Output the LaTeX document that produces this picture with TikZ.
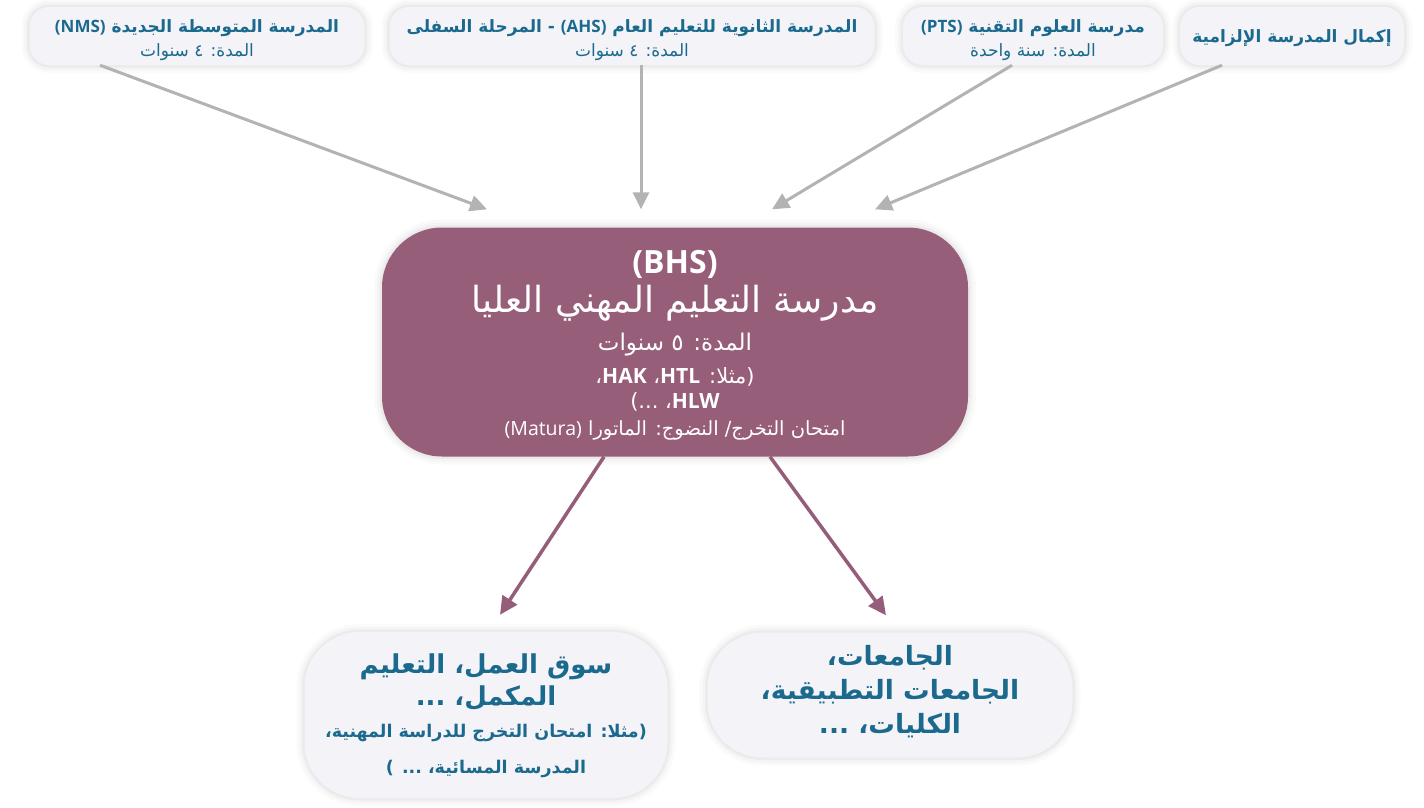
\documentclass[tikz,border=0pt]{standalone}
\usepackage{fontspec}
\usetikzlibrary{arrows.meta}
\TeXXeTstate=1
\newfontfamily\ar[Script=Arabic]{DejaVu Sans}
\newfontfamily\lat{Open Sans}
\newcommand\RR[1]{\beginR #1\endR}
\newcommand\LT[1]{\beginL{#1}\endL}
% row: pitch #1 (pt), font size #2 (pt)
\newcommand\LN[2]{\fontsize{#2}{#2}\selectfont\rule[\dimexpr-#1pt/2+#2pt*33/100\relax]{0pt}{#1pt}}
\newcommand\tight{\baselineskip=0pt\lineskip=0pt\lineskiplimit=0pt}
\definecolor{boxfill}{HTML}{F3F3F8}
\definecolor{tblue}{HTML}{1B6A8E}
\definecolor{bhsfill}{HTML}{975E79}
\definecolor{agray}{HTML}{B3B3B3}
\definecolor{amaroon}{HTML}{955D7A}
\begin{document}
\begin{tikzpicture}[x=1pt,y=-1pt,
  glow/.style={preaction={draw=black,draw opacity=0.02,line width=16pt},
               preaction={draw=black,draw opacity=0.025,line width=10pt},
               preaction={draw=black,draw opacity=0.035,line width=5pt}},
  topbox/.style={glow,rounded corners=20pt,fill=boxfill,text=tblue,align=center,
                 minimum height=58pt,inner sep=0pt,font=\ar\tight},
  botbox/.style={glow,rounded corners=55pt,fill=boxfill,text=tblue,align=center,
                 inner sep=0pt,font=\ar\tight},
  bhsbox/.style={glow,rounded corners=60pt,fill=bhsfill,text=white,align=center,
                 inner sep=0pt,font=\ar\tight},
  garrow/.style={draw=agray,line width=3pt,-{Triangle[length=17pt,width=16pt]}},
  marrow/.style={draw=amaroon,line width=3.5pt,-{Triangle[length=18pt,width=17pt]}}]
\useasboundingbox (0,0) rectangle (1424,807);
\fill[white] (0,0) rectangle (1424,807);

\node[topbox,minimum width=335pt] (nms) at (197,36)
  {\rule{0pt}{6pt}\\
   \LN{24}{17}\bfseries\RR{المدرسة المتوسطة الجديدة \LT{\lat (NMS)}}\\
   \LN{24}{17}\RR{المدة: ٤ سنوات}};
\node[topbox,minimum width=485pt] (ahs) at (632,36)
  {\rule{0pt}{6pt}\\
   \LN{24}{17}\bfseries\RR{المدرسة الثانوية للتعليم العام \LT{\lat (AHS)} - المرحلة السفلى}\\
   \LN{24}{17}\RR{المدة: ٤ سنوات}};
\node[topbox,minimum width=260pt] (pts) at (1033,36)
  {\rule{0pt}{6pt}\\
   \LN{24}{17}\bfseries\RR{مدرسة العلوم التقنية \LT{\lat (PTS)}}\\
   \LN{24}{17}\RR{المدة: سنة واحدة}};
\node[topbox,minimum width=224pt] (comp) at (1292,36)
  {\rule{0pt}{2pt}\\
   \LN{24}{17}\bfseries\RR{إكمال المدرسة الإلزامية}};

\node[bhsbox,minimum width=586pt,minimum height=229pt] (bhs) at (675,342)
  {\rule{0pt}{6pt}\\
   \LN{34}{32}\lat\bfseries (BHS)\\
   \LN{42}{36}\RR{مدرسة التعليم المهني العليا}\\
   \LN{42}{23}\RR{المدة: ٥ سنوات}\\
   \LN{26}{21}\RR{(مثلا: \LT{\lat\bfseries HTL}، \LT{\lat\bfseries HAK}،}\\
   \LN{24}{21}\RR{\LT{\lat\bfseries HLW}، ...)}\\
   \LN{30}{19.5}\RR{امتحان التخرج/ النضوج: الماتورا \LT{\lat (Matura)}}};

\node[botbox,minimum width=363pt,minimum height=166pt] (labor) at (486,715)
  {\rule{0pt}{4pt}\\
   \LN{32}{26}\bfseries\RR{سوق العمل، التعليم}\\
   \LN{32}{26}\bfseries\RR{المكمل، ...}\\
   \LN{38}{17.5}\bfseries\RR{(مثلا: امتحان التخرج للدراسة المهنية،}\\
   \LN{34}{17.5}\bfseries\RR{المدرسة المسائية، ... )}};
\node[botbox,minimum width=365pt,minimum height=125pt] (univ) at (890,695)
  {\LN{34}{26.5}\bfseries\RR{الجامعات،}\\
   \LN{34}{26.5}\bfseries\RR{الجامعات التطبيقية،}\\
   \LN{34}{26.5}\bfseries\RR{الكليات، ...}\\
   \rule{0pt}{8pt}};

\draw[garrow] ([xshift=-97pt]nms.south) -- ([xshift=-188pt,yshift=18pt]bhs.north);
\draw[garrow] ([xshift=9pt]ahs.south) -- ([xshift=-34pt,yshift=18pt]bhs.north);
\draw[garrow] ([xshift=-21pt]pts.south) -- ([xshift=97pt,yshift=18pt]bhs.north);
\draw[garrow] ([xshift=-70pt]comp.south) -- ([xshift=200pt,yshift=18pt]bhs.north);
\draw[marrow] ([xshift=-71pt]bhs.south) -- ([xshift=14pt,yshift=17pt]labor.north);
\draw[marrow] ([xshift=95pt]bhs.south) -- ([xshift=-4pt,yshift=17pt]univ.north);
\end{tikzpicture}
\end{document}
